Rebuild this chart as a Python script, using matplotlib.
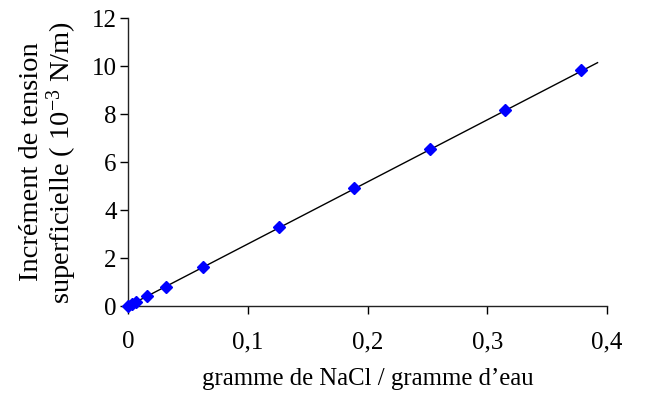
import matplotlib
matplotlib.use("Agg")
import matplotlib.pyplot as plt
import numpy as np

# Data
x_vals = [0.0, 0.0032, 0.0063, 0.0158, 0.0315, 0.063, 0.126, 0.189, 0.252, 0.315, 0.378]
y_vals = [0.0, 0.08, 0.16, 0.43, 0.80, 1.64, 3.30, 4.90, 6.53, 8.17, 9.83]
fit_x = [0.0, 0.392]
fit_y = [0.0, 10.14]
x_ticks = [0.0, 0.1, 0.2, 0.3, 0.4]
x_tick_labels = ["0", "0,1", "0,2", "0,3", "0,4"]
y_ticks = [0, 2, 4, 6, 8, 10, 12]

plt.rcParams['font.family'] = ['Liberation Serif', 'DejaVu Serif']
plt.rcParams['mathtext.fontset'] = 'custom'
plt.rcParams['mathtext.rm'] = 'Liberation Serif'
plt.rcParams['mathtext.it'] = 'Liberation Serif:italic'

fig = plt.figure(figsize=(6.61, 3.96), dpi=100)
ax = fig.add_axes([0.1936, 0.227, 0.9185 - 0.1936, 0.9545 - 0.227])

ax.plot(fit_x, fit_y, color='black', linewidth=1.0, zorder=2)
ax.plot(x_vals, y_vals, linestyle='none', marker='D', markersize=6.5,
        color='#0000ff', markeredgecolor='#0000ff', zorder=3, clip_on=False)

ax.set_xlim(0, 0.4)
ax.set_ylim(0, 12)
ax.set_xticks(x_ticks)
ax.set_xticklabels(x_tick_labels)
ax.set_yticks(y_ticks)

for s in ['top', 'right']:
    ax.spines[s].set_visible(False)
for s in ['left', 'bottom']:
    ax.spines[s].set_linewidth(1.0)
    ax.spines[s].set_color('#222222')

ax.tick_params(axis='both', direction='out', length=6, width=1.0, labelsize=18, colors='black')
ax.tick_params(axis='x', pad=12)
ax.tick_params(axis='y', pad=2)

ax.set_xlabel("gramme de NaCl / gramme d\u2019eau", fontsize=17.8, labelpad=11)
ax.set_ylabel("Incrément de tension\nsuperficielle ( 10$^{-3}$ N/m)", fontsize=20.5,
              labelpad=9, linespacing=1.05)

fig.savefig("out.png", dpi=100, facecolor='white')
